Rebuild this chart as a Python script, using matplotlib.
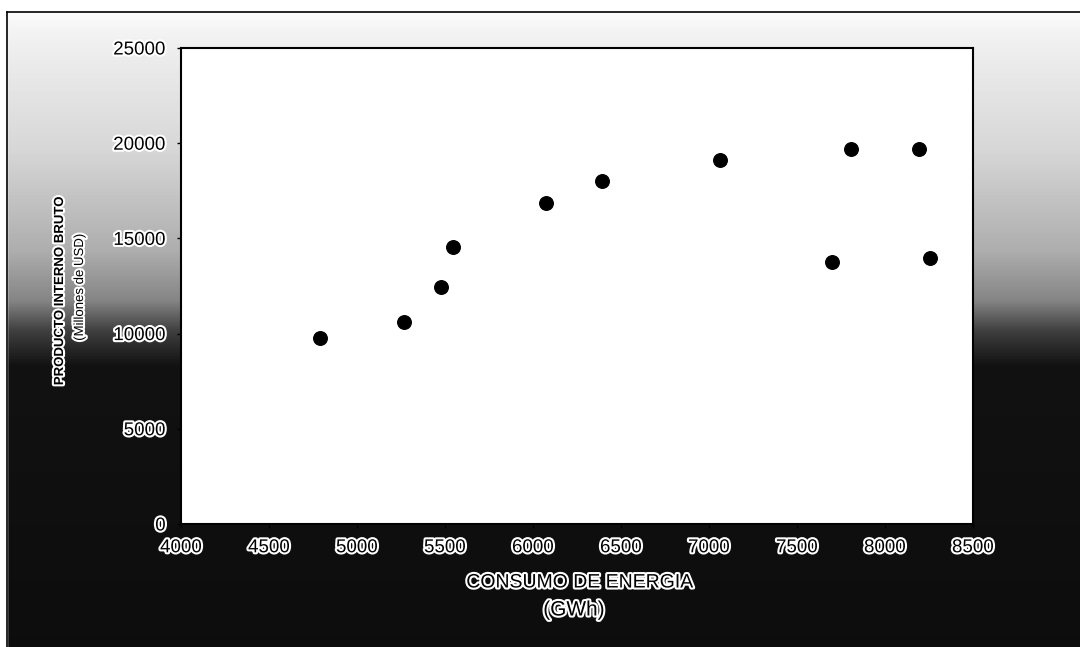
import numpy as np
import matplotlib
matplotlib.use('Agg')
from matplotlib import pyplot as plt
from matplotlib import patheffects as pe
from matplotlib.patches import Rectangle

# Consumo de energia (GWh) vs PIB (millones USD)
consumo = [4790, 5265, 5480, 5545, 6075, 6390, 7065, 7700, 7805, 8195, 8255]
pib = [9750, 10600, 12450, 14550, 16850, 18000, 19100, 13750, 19700, 19700, 13950]

x_ticks = [4000, 4500, 5000, 5500, 6000, 6500, 7000, 7500, 8000, 8500]
y_ticks = [0, 5000, 10000, 15000, 20000, 25000]

plt.rcParams['font.family'] = ['Liberation Sans', 'DejaVu Sans']

fig = plt.figure(figsize=(10.8, 6.47), dpi=100)

# background: scanned grey gradient, light on top, black at the bottom
bg = fig.add_axes([0, 0, 1, 1], zorder=0)
rows = np.arange(647)
shade = np.interp(rows, [0, 40, 150, 250, 300, 330, 365, 647],
                  [1.0, 0.94, 0.84, 0.68, 0.52, 0.25, 0.07, 0.05])
bg.imshow(np.tile(shade[:, None], (1, 1080)), cmap='gray', vmin=0, vmax=1,
          aspect='auto', extent=[0, 1080, 647, 0])
bg.add_patch(Rectangle((0, 0), 1080, 12, color='white', zorder=2))
bg.add_patch(Rectangle((0, 0), 7, 647, color='white', zorder=2))
bg.plot([7, 1080], [12, 12], color='black', lw=1.2, zorder=3)
bg.plot([7, 7], [12, 647], color='black', lw=1.2, zorder=3)
bg.set_xlim(0, 1080)
bg.set_ylim(647, 0)
bg.axis('off')

ax = fig.add_axes([181 / 1080, 123 / 647, 792 / 1080, 476 / 647], zorder=1)
ax.set_facecolor('white')
ax.scatter(consumo, pib, s=95, color='black', zorder=3)
ax.set_xlim(4000, 8500)
ax.set_ylim(0, 25000)
ax.set_xticks(x_ticks)
ax.set_yticks(y_ticks)
ax.tick_params(direction='out', length=3, width=1, pad=8)
ax.tick_params(axis='y', labelsize=13.5)
ax.tick_params(axis='x', labelsize=13.5)
for s in ax.spines.values():
    s.set_linewidth(1.5)

halo = [pe.withStroke(linewidth=3, foreground='white')]
for lab in ax.get_xticklabels() + ax.get_yticklabels():
    lab.set_path_effects(halo)

fig.text(60 / 1080, 1 - 291 / 647, 'PRODUCTO INTERNO BRUTO', rotation=90,
         ha='center', va='center', fontsize=9.5, fontweight='bold',
         path_effects=halo)
fig.text(80 / 1080, 1 - 287 / 647, '(Millones de USD)', rotation=90,
         ha='center', va='center', fontsize=9.5, path_effects=halo)
fig.text(580 / 1080, 1 - 583 / 647, 'CONSUMO DE ENERGIA', ha='center',
         va='center', fontsize=14, path_effects=halo)
fig.text(574 / 1080, 1 - 610 / 647, '(GWh)', ha='center', va='center',
         fontsize=15, path_effects=halo)

fig.savefig('out.png', dpi=100)
